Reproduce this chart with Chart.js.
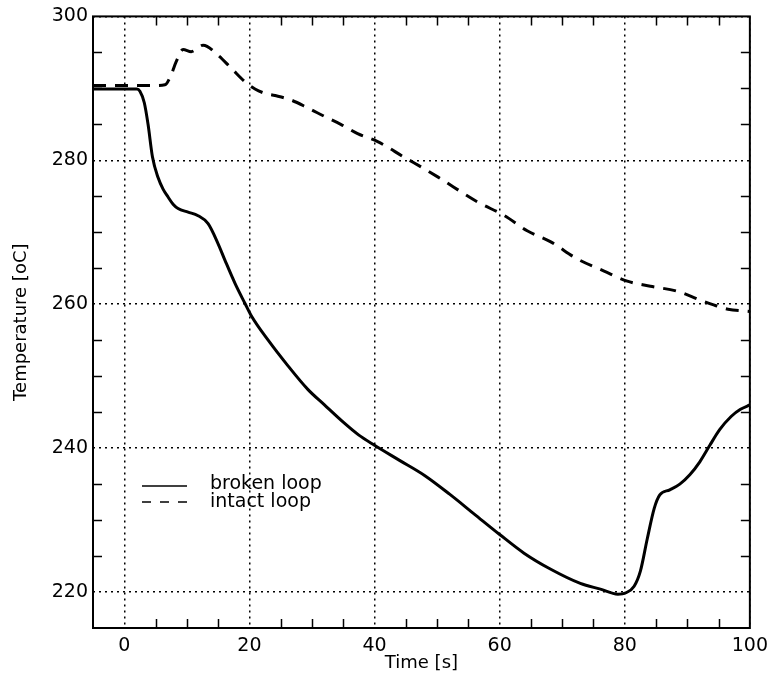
<!DOCTYPE html>
<html>
<head>
<meta charset="utf-8">
<script src="https://cdn.jsdelivr.net/npm/chart.js@4.4.0/dist/chart.umd.min.js"></script>
<style>
  html, body { margin: 0; padding: 0; background: #fff; }
  #wrap { width: 775px; height: 685px; }
</style>
</head>
<body>
<div id="wrap"><canvas id="grafico"></canvas></div>
<script>
// broken loop (solid)
var tempoQuebrado = [-5, 0, 2, 2.5, 3.2, 3.8, 4.5, 5.4, 6.2, 7, 7.8, 8.6, 10.2, 11.8, 13.4, 15, 16.1, 17.7, 19.3, 20.3, 23, 26.2, 29.3, 32, 35, 37.5, 40, 44, 48, 52, 56, 60, 63.9, 68.1, 72.9, 76.1, 78.9, 80.2, 81.5, 82.5, 83.6, 84.7, 85.6, 87.2, 88.8, 90.4, 92, 93.6, 95.2, 97, 98.5, 100];
var tempQuebrado = [289.9, 289.9, 289.9, 289.6, 288, 285, 280.5, 277.6, 276, 274.9, 273.9, 273.3, 272.8, 272.3, 271.2, 268.4, 266.1, 262.9, 260.1, 258.4, 255, 251.4, 248.2, 246, 243.6, 241.8, 240.4, 238.3, 236.2, 233.6, 230.8, 228, 225.4, 223.2, 221.2, 220.4, 219.7, 219.9, 220.8, 222.9, 227.4, 231.6, 233.5, 234.2, 235, 236.3, 238.1, 240.4, 242.6, 244.4, 245.4, 246];

// intact loop (dashed)
var tempoIntacto = [-5, 0, 5, 6.5, 7.5, 8.3, 9.4, 10.7, 12.6, 15, 17.1, 19.3, 20.9, 22.5, 24.1, 26.6, 29.3, 32, 34.6, 37.3, 40.5, 44.8, 48, 50.1, 56.5, 60.8, 64.4, 68.1, 72.4, 76.7, 80.4, 84.1, 88.4, 92, 94.2, 96.5, 100];
var tempIntacto = [290.4, 290.4, 290.4, 290.5, 291.9, 293.7, 295.4, 295.1, 296, 294.6, 292.8, 290.9, 289.9, 289.3, 289, 288.4, 287.3, 286.1, 285, 283.7, 282.6, 280.4, 278.8, 277.7, 274.2, 272.3, 270.2, 268.7, 266.3, 264.6, 263.2, 262.5, 261.8, 260.6, 259.9, 259.3, 259];

var ticksX = [0, 20, 40, 60, 80, 100];
var ticksY = [220, 240, 260, 280, 300];
var menoresX = [5, 10, 15, 25, 30, 35, 45, 50, 55, 65, 70, 75, 85, 90, 95];
var menoresY = [225, 230, 235, 245, 250, 255, 265, 270, 275, 285, 290, 295];
var nomes = ['broken loop', 'intact loop'];

function pares(xs, ys) {
    var r = [];
    for (var i = 0; i < xs.length; i++) r.push({ x: xs[i], y: ys[i] });
    return r;
}

var fonte = 'DejaVu Sans, Verdana, sans-serif';

// moldura, ticks para dentro e legenda
var extras = {
    id: 'extras',
    afterDraw: function (chart) {
        var c = chart.ctx, a = chart.chartArea;
        var sx = chart.scales.x, sy = chart.scales.y;
        c.save();
        c.strokeStyle = '#000';
        c.lineWidth = 1.5;
        c.beginPath();
        menoresX.forEach(function (v) {
            var p = Math.round(sx.getPixelForValue(v)) + 0.5;
            c.moveTo(p, a.bottom); c.lineTo(p, a.bottom - 9);
            c.moveTo(p, a.top); c.lineTo(p, a.top + 9);
        });
        menoresY.forEach(function (v) {
            var p = Math.round(sy.getPixelForValue(v)) + 0.5;
            c.moveTo(a.left, p); c.lineTo(a.left + 9, p);
            c.moveTo(a.right, p); c.lineTo(a.right - 9, p);
        });
        c.stroke();

        c.lineWidth = 2;
        c.strokeRect(a.left, a.top, a.right - a.left, a.bottom - a.top);

        // legenda
        c.lineWidth = 1.5;
        c.beginPath();
        c.moveTo(142, 486); c.lineTo(187, 486);
        c.stroke();
        c.setLineDash([9, 9]);
        c.beginPath();
        c.moveTo(142, 502); c.lineTo(190, 502);
        c.stroke();
        c.setLineDash([]);
        c.fillStyle = '#000';
        c.font = '19px ' + fonte;
        c.textBaseline = 'middle';
        c.fillText(nomes[0], 210, 484);
        c.fillText(nomes[1], 210, 502);
        c.restore();
    }
};

var grafico = new Chart(document.getElementById('grafico').getContext('2d'), {
    type: 'line',
    data: {
        datasets: [{
            label: nomes[0],
            data: pares(tempoQuebrado, tempQuebrado),
            borderColor: '#000',
            borderWidth: 3,
            pointRadius: 0,
            cubicInterpolationMode: 'monotone',
            fill: false
        }, {
            label: nomes[1],
            data: pares(tempoIntacto, tempIntacto),
            borderColor: '#000',
            borderWidth: 3,
            borderDash: [13, 9],
            pointRadius: 0,
            cubicInterpolationMode: 'monotone',
            fill: false
        }]
    },
    options: {
        responsive: true,
        maintainAspectRatio: false,
        animation: false,
        layout: { padding: { left: 0, right: 23, top: 13, bottom: 0 } },
        plugins: {
            legend: { display: false },
            tooltip: { enabled: false }
        },
        scales: {
            x: {
                type: 'linear',
                min: -5,
                max: 100,
                afterBuildTicks: function (s) { s.ticks = ticksX.map(function (v) { return { value: v }; }); },
                afterFit: function (s) { s.height = 57; },
                grid: { color: '#000', lineWidth: 1.5, drawTicks: false },
                border: { display: false, dash: [2, 4] },
                ticks: { color: '#000', padding: 7, maxRotation: 0, font: { family: fonte, size: 19 } },
                title: { display: true, text: 'Time [s]', color: '#000', padding: { top: 0, bottom: 11 }, font: { family: fonte, size: 18 } }
            },
            y: {
                min: 215,
                max: 300,
                afterBuildTicks: function (s) { s.ticks = ticksY.map(function (v) { return { value: v }; }); },
                afterFit: function (s) { s.width = 93; },
                grid: { color: '#000', lineWidth: 1.5, drawTicks: false },
                border: { display: false, dash: [2, 4] },
                ticks: { color: '#000', padding: 5, font: { family: fonte, size: 19 } },
                title: { display: true, text: 'Temperature [oC]', color: '#000', padding: { top: 11, bottom: 0 }, font: { family: fonte, size: 18 } }
            }
        }
    },
    plugins: [extras]
});
</script>
</body>
</html>
